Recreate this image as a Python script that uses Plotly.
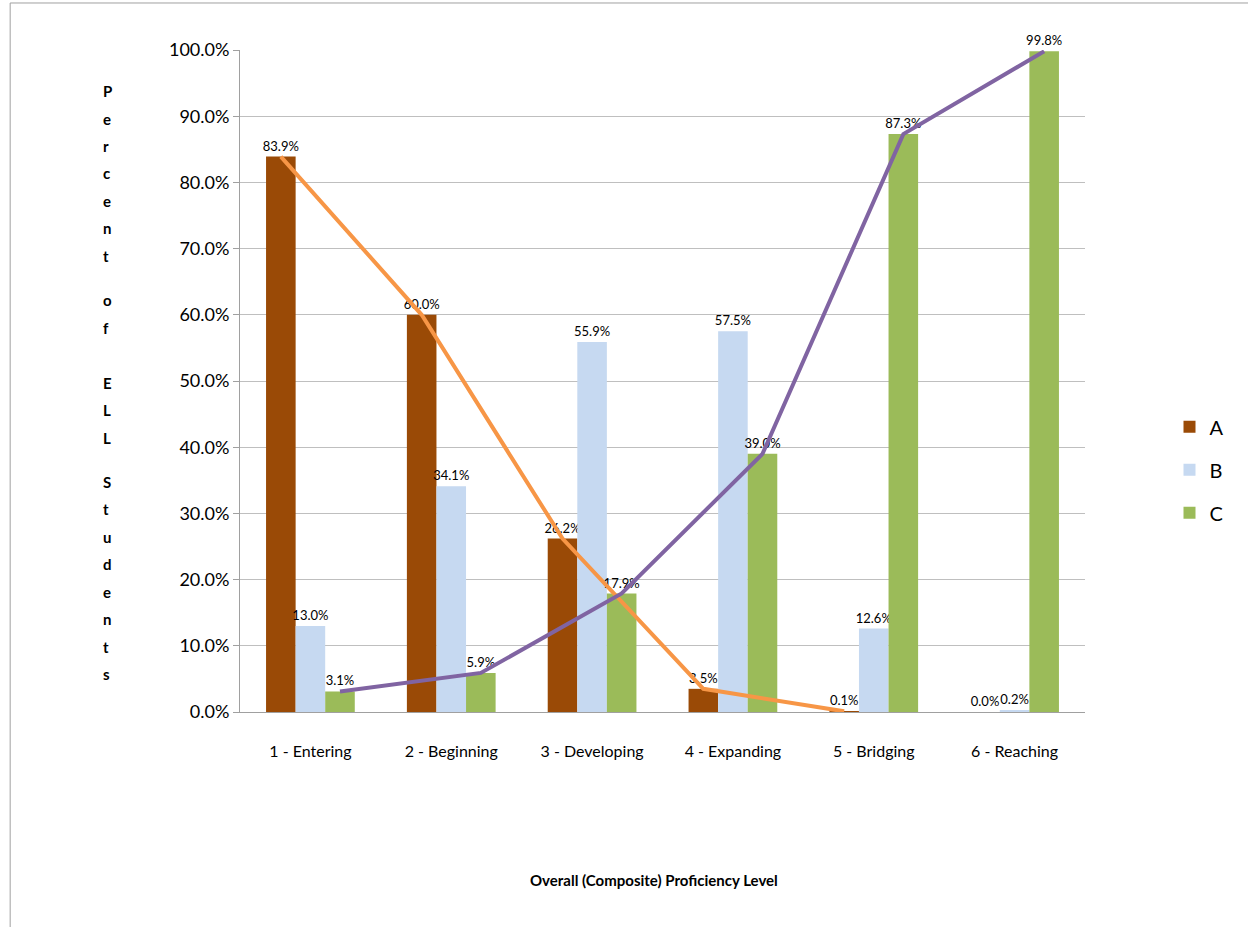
import plotly.graph_objects as go

# Proficiency levels and share of ELL students in each group (percent)
levels = ["1 - Entering", "2 - Beginning", "3 - Developing",
          "4 - Expanding", "5 - Bridging", "6 - Reaching"]
series_a = [83.9, 60.0, 26.2, 3.5, 0.1, 0.0]
series_b = [13.0, 34.1, 55.9, 57.5, 12.6, 0.2]
series_c = [3.1, 5.9, 17.9, 39.0, 87.3, 99.8]
y_ticks = [0, 10, 20, 30, 40, 50, 60, 70, 80, 90, 100]
y_title = "Percent of ELL Students"
x_title = "Overall (Composite) Proficiency Level"

FONT = "Lato, 'Open Sans', sans-serif"
COL_A, COL_B, COL_C = "#9A4A06", "#C6D9F1", "#9BBB59"
LINE_A, LINE_C = "#F79646", "#8064A2"

bar_w = 0.21
offsets = {"A": -0.315, "B": -0.105, "C": 0.105}
xs = list(range(len(levels)))

fig = go.Figure()
for name, vals, col in [("A", series_a, COL_A), ("B", series_b, COL_B), ("C", series_c, COL_C)]:
    fig.add_trace(go.Bar(
        x=xs, y=vals, name=name, legendgroup=name,
        width=bar_w, offset=offsets[name],
        marker=dict(color=col, line=dict(width=0)),
        text=[f"{v:.1f}%" for v in vals], textposition="outside",
        textfont=dict(family=FONT, size=13, color="#000"),
        cliponaxis=False,
    ))

# Trend lines through the tops of the A and C bars
centre = lambda k: offsets[k] + bar_w / 2
fig.add_trace(go.Scatter(
    x=[i + centre("A") for i in xs[:5]], y=series_a[:5], mode="lines",
    line=dict(color=LINE_A, width=4), showlegend=False, hoverinfo="skip"))
fig.add_trace(go.Scatter(
    x=[i + centre("C") for i in xs], y=series_c, mode="lines",
    line=dict(color=LINE_C, width=4), showlegend=False, hoverinfo="skip"))

# Vertical, letter-by-letter axis title
n = len(y_title)
top_y, bot_y = 80, 685
plot_top, plot_bot = 50, 712
for i, ch in enumerate(y_title):
    if ch == " ":
        continue
    py = top_y + (bot_y - top_y) * i / (n - 1)
    fig.add_annotation(
        x=-0.165, xref="paper", y=(plot_bot - py) / (plot_bot - plot_top), yref="paper",
        text=f"<b>{ch}</b>", showarrow=False,
        font=dict(family=FONT, size=15, color="#000"))

fig.add_annotation(
    x=0.49, xref="paper", y=-0.27, yref="paper", text=f"<b>{x_title}</b>",
    showarrow=False, font=dict(family=FONT, size=15, color="#000"))

# Chart area frame (top and left edges)
fig.add_shape(type="line", xref="paper", yref="paper",
              x0=-0.272, x1=1.2, y0=1.071, y1=1.071, line=dict(color="#A0A0A0", width=1))
fig.add_shape(type="line", xref="paper", yref="paper",
              x0=-0.272, x1=-0.272, y0=1.071, y1=-0.4, line=dict(color="#A0A0A0", width=1))

fig.update_layout(
    width=1248, height=927,
    margin=dict(l=240, r=163, t=50, b=215),
    paper_bgcolor="white", plot_bgcolor="white",
    font=dict(family=FONT, color="#000"),
    barmode="overlay",
    uniformtext=dict(minsize=13, mode="show"),
    showlegend=True,
    legend=dict(x=1.1, y=0.366, xanchor="left", yanchor="middle",
                font=dict(family=FONT, size=20, color="#000"),
                traceorder="grouped", tracegroupgap=14,
                itemwidth=30),
    xaxis=dict(tickmode="array", tickvals=xs, ticktext=levels,
               range=[-0.5, len(levels) - 0.5],
               showgrid=False, zeroline=False, showline=True, linecolor="#A0A0A0",
               ticks="outside", ticklen=0, ticklabelstandoff=25,
               tickfont=dict(family=FONT, size=16, color="#000")),
    yaxis=dict(range=[0, 100], tickvals=y_ticks,
               ticktext=[f"{v:.1f}%" for v in y_ticks],
               showgrid=True, gridcolor="#BFBFBF", gridwidth=1,
               zeroline=False, showline=True, linecolor="#A0A0A0",
               ticks="outside", ticklen=6, tickcolor="#A0A0A0",
               tickfont=dict(family=FONT, size=18, color="#000")),
)

fig.write_html("out.html")
